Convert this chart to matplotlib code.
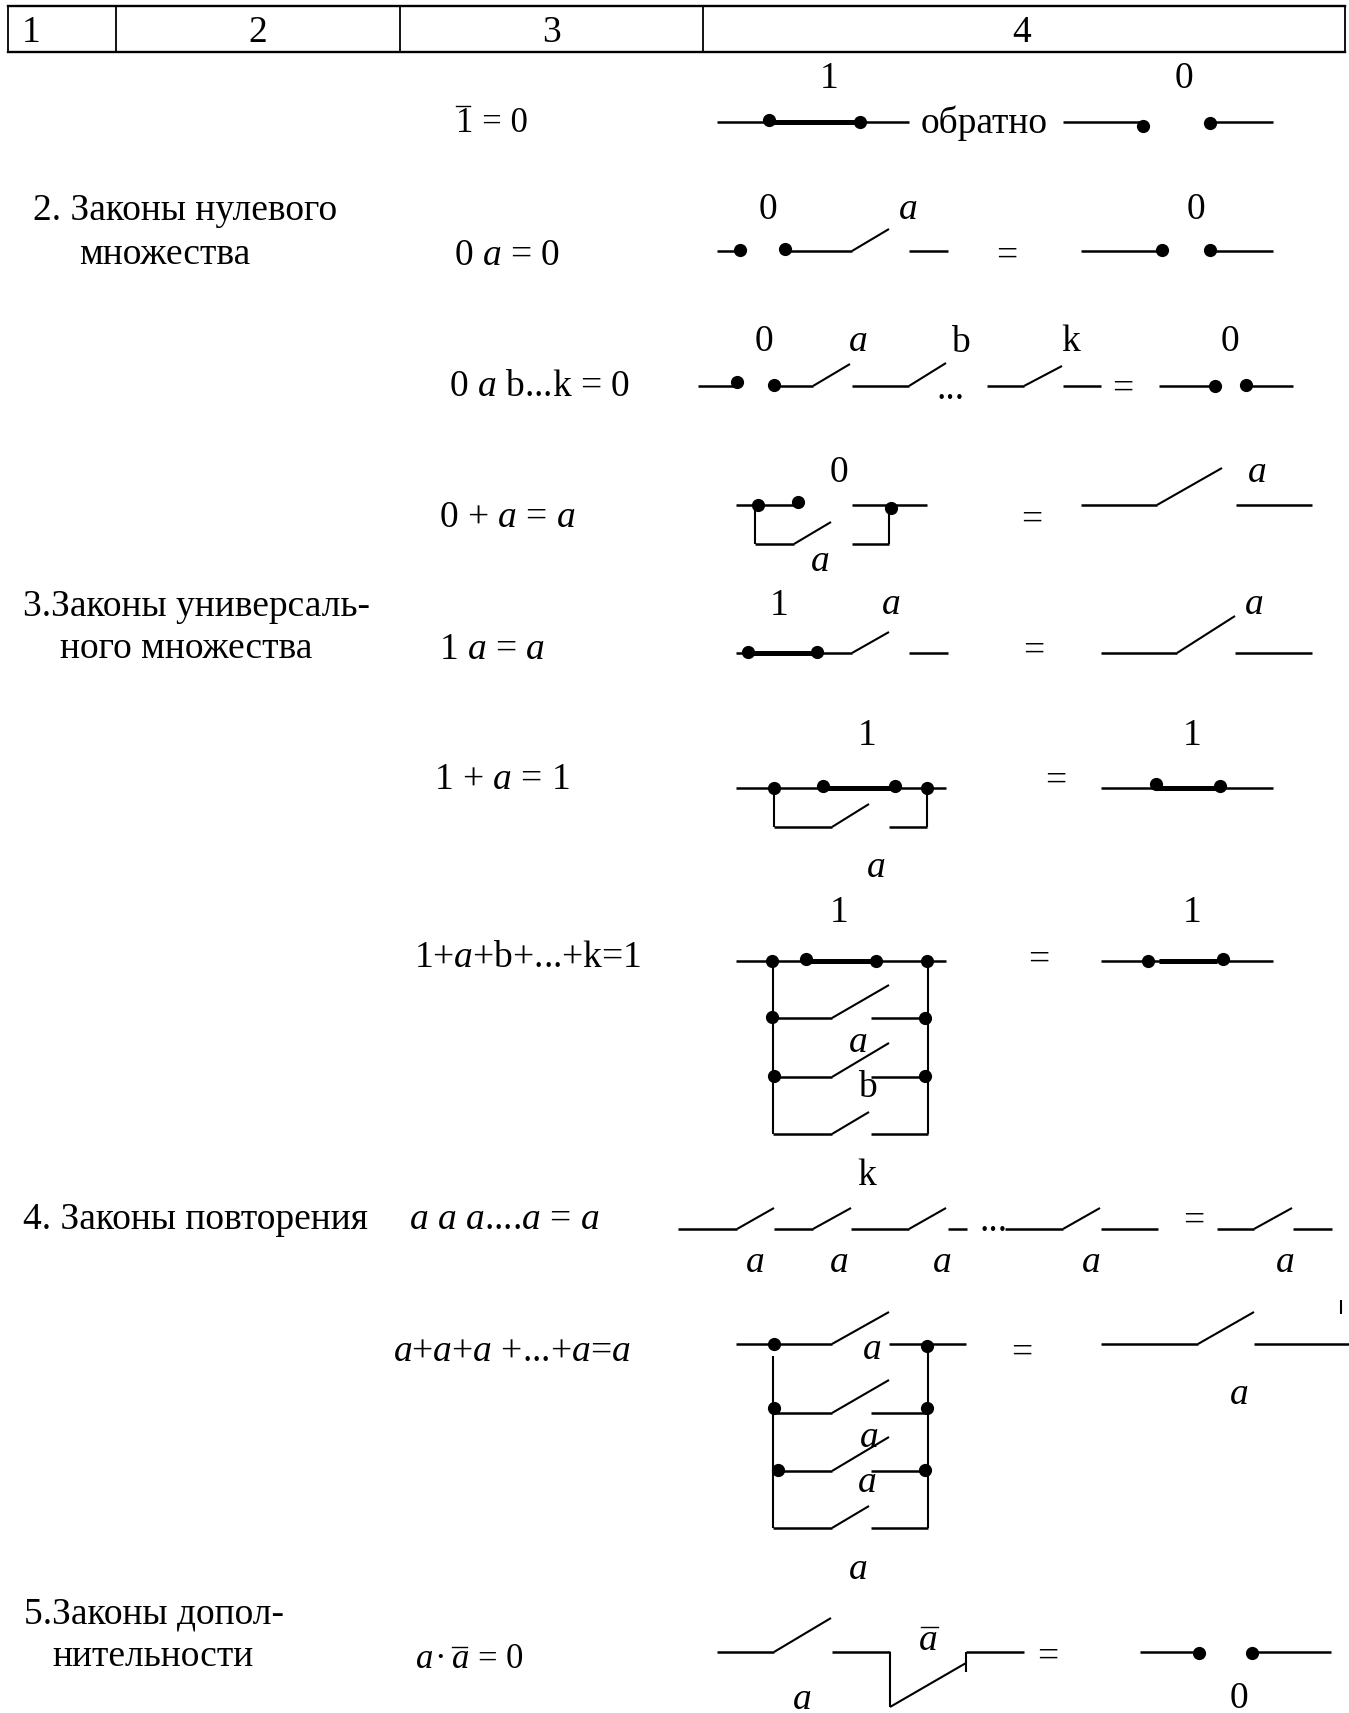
import matplotlib
matplotlib.use("Agg")
import matplotlib.pyplot as plt

W = 1349
H = 1713
FS = 27

plt.rcParams['font.family'] = ['Liberation Serif', 'DejaVu Serif']
plt.rcParams['mathtext.fontset'] = 'custom'
plt.rcParams['mathtext.rm'] = 'Liberation Serif'
plt.rcParams['mathtext.it'] = 'Liberation Serif:italic'

# table head
table_box = [8, 6, 1345, 52]
table_cols = [116, 400, 703]
head_labels = [("1", 31), ("2", 258), ("3", 551), ("4", 1022)]

# left column, (text, x left, y)
group_labels = [
    ("2. Законы нулевого", 33, 209),
    ("множества", 79, 253),
    ("3.Законы универсаль-", 23, 605),
    ("ного множества", 60, 647),
    ("4. Законы повторения", 23, 1218),
    ("5.Законы допол-", 24, 1612),
    ("нительности", 52, 1655),
]

# formulas, (text, x left, y)
formulas = [
    ("0 $a$ = 0", 454, 254),
    ("0 $a$ b...k = 0", 449, 385),
    ("0 + $a$ = $a$", 439, 516),
    ("1 $a$ = $a$", 439, 648),
    ("1 + $a$ = 1", 434, 778),
    ("1+$a$+b+...+k=1", 414, 956),
    ("$a$ $a$ $a$....$a$ = $a$", 409, 1218),
    ("$a$+$a$+$a$ +...+$a$=$a$", 393, 1350),
]

# smaller formulas of the first and last row
first_formula = ("1 = 0", 456, 124)
last_formula = [("$a$", 424), ("·", 440), ("$a$", 460), ("=", 487), ("0", 514)]

# overbars (x1, x2, y)
overbars = [(456, 470, 106), (452, 467, 1647), (921, 938, 1627)]

# contact names, (text, x center, y center)
plain_names = [
    ("1", 829, 76), ("0", 1184, 76), ("обратно", 984, 120),
    ("0", 768, 207), ("0", 1196, 207),
    ("0", 764, 339), ("b", 960, 340), ("k", 1071, 339), ("0", 1230, 339),
    ("0", 839, 470),
    ("1", 779, 603),
    ("1", 867, 733), ("1", 1192, 733),
    ("1", 839, 910), ("1", 1192, 910), ("b", 867, 1085), ("k", 867, 1173),
    ("0", 1239, 1696),
]
italic_names = [
    (908, 210), (858, 342), (820, 562), (1257, 473), (891, 605), (1254, 605),
    (876, 868), (858, 1043),
    (755, 1263), (839, 1263), (942, 1263), (1091, 1263), (1285, 1263),
    (872, 1350), (1239, 1395), (869, 1438), (867, 1483), (858, 1570),
    (928, 1641), (802, 1700),
]
equals_signs = [
    (1007, 253), (1123, 386), (1032, 517), (1034, 648), (1056, 778),
    (1039, 957), (1194, 1218), (1022, 1350), (1048, 1654),
]
dots_text = [(951, 390), (994, 1222)]

# wires (x1, y1, x2, y2)
wires = [
    (717, 122, 909, 122), (1063, 122, 1140, 122), (1210, 122, 1273, 122),
    (717, 251, 740, 251), (785, 251, 852, 251), (909, 251, 948, 251),
    (1081, 251, 1162, 251), (1210, 251, 1273, 251),
    (698, 386, 740, 386), (774, 386, 813, 386), (852, 386, 909, 386),
    (987, 386, 1024, 386), (1063, 386, 1101, 386),
    (1159, 386, 1215, 386), (1246, 386, 1293, 386),
    (736, 505, 796, 505), (852, 505, 927, 505), (755, 544, 794, 544),
    (852, 544, 889, 544), (1081, 505, 1157, 505), (1236, 505, 1312, 505),
    (736, 653, 852, 653), (909, 653, 948, 653),
    (1101, 653, 1177, 653), (1235, 653, 1312, 653),
    (736, 788, 946, 788), (774, 827, 832, 827), (889, 827, 927, 827),
    (1101, 788, 1273, 788),
    (736, 961, 946, 961), (772, 1018, 832, 1018), (871, 1018, 925, 1018),
    (774, 1077, 832, 1077), (871, 1077, 925, 1077),
    (773, 1134, 832, 1134), (871, 1134, 928, 1134), (1101, 961, 1273, 961),
    (678, 1229, 737, 1229), (774, 1229, 813, 1229), (851, 1229, 909, 1229),
    (948, 1229, 967, 1229), (1005, 1229, 1063, 1229), (1101, 1229, 1158, 1229),
    (1217, 1229, 1254, 1229), (1293, 1229, 1332, 1229),
    (736, 1344, 832, 1344), (889, 1344, 966, 1344),
    (774, 1413, 832, 1413), (871, 1413, 928, 1413),
    (774, 1471, 832, 1471), (871, 1471, 928, 1471),
    (773, 1528, 832, 1528), (871, 1528, 928, 1528),
    (1101, 1344, 1198, 1344), (1254, 1344, 1349, 1344),
    (717, 1652, 774, 1652), (832, 1652, 890, 1652), (966, 1652, 1024, 1652),
    (1140, 1652, 1199, 1652), (1252, 1652, 1331, 1652),
]
# open contacts and verticals, drawn a bit thinner
blades = [
    (852, 251, 889, 229),
    (813, 386, 850, 364), (909, 386, 946, 363), (1024, 386, 1062, 366),
    (794, 544, 831, 522), (1157, 505, 1222, 468),
    (852, 653, 889, 632), (1177, 653, 1235, 616),
    (832, 827, 869, 804),
    (832, 1018, 889, 985), (832, 1077, 889, 1043), (832, 1134, 869, 1112),
    (737, 1229, 774, 1208), (813, 1229, 851, 1208), (909, 1229, 946, 1208),
    (1063, 1229, 1100, 1208), (1254, 1229, 1292, 1208),
    (832, 1344, 889, 1312), (832, 1413, 889, 1380), (832, 1471, 889, 1437),
    (832, 1528, 869, 1506), (1198, 1344, 1254, 1312),
    (774, 1652, 831, 1618), (890, 1707, 966, 1663),
    (755, 505, 755, 544), (889, 505, 889, 544),
    (774, 788, 774, 827), (927, 788, 927, 827),
    (773, 961, 773, 1134), (928, 961, 928, 1134),
    (773, 1356, 773, 1528), (928, 1346, 928, 1528),
    (890, 1652, 890, 1707), (966, 1652, 966, 1672),
    (1341, 1300, 1341, 1314),
]
# closed contacts
bridges = [
    (768, 122, 860, 122), (749, 653, 817, 653), (823, 788, 895, 788),
    (1157, 788, 1220, 788), (807, 961, 876, 961), (1159, 961, 1217, 961),
]
dots_x = [769, 860, 1143, 1210, 740, 785, 1162, 1210, 737, 774, 1215, 1246,
          758, 798, 891, 748, 817, 774, 823, 895, 927, 1156, 1220,
          772, 806, 876, 927, 1148, 1223, 772, 925, 774, 925,
          774, 927, 774, 927, 778, 925, 1199, 1252]
dots_y = [120, 122, 126, 123, 250, 249, 250, 250, 382, 385, 386, 385,
          505, 502, 508, 652, 652, 788, 786, 786, 788, 784, 786,
          961, 959, 961, 961, 961, 959, 1017, 1018, 1076, 1076,
          1344, 1346, 1408, 1408, 1470, 1470, 1653, 1653]

fig = plt.figure(figsize=(W / 100, H / 100), dpi=100)
ax = fig.add_axes([0, 0, 1, 1])
ax.set_xlim(0, W)
ax.set_ylim(H, 0)
ax.axis('off')

x1, y1, x2, y2 = table_box
ax.plot([x1, x2], [y1, y1], color='k', lw=1.7)
ax.plot([x1, x2], [y2, y2], color='k', lw=1.7)
for x in [x1, x2] + table_cols:
    ax.plot([x, x], [y1, y2], color='k', lw=1.3)
for s, x in head_labels:
    ax.text(x, 33, s, fontsize=FS, ha='center', va='center')

# digits sit higher than the middle of the text box
for s, x, y in group_labels + formulas:
    ax.text(x, y + 2, s, fontsize=FS, ha='left', va='center')
s, x, y = first_formula
ax.text(x, y, s, fontsize=FS - 2, ha='left', va='center')
for s, x in last_formula:
    ax.text(x, 1660, s, fontsize=FS - 2, ha='center', va='center')
for x1, x2, y in overbars:
    ax.plot([x1, x2], [y, y], color='k', lw=1.0)

for s, x, y in plain_names:
    ax.text(x, y + 3, s, fontsize=FS, ha='center', va='center')
for x, y in italic_names:
    ax.text(x, y, "a", fontsize=FS, style='italic', ha='center', va='center')
for x, y in equals_signs:
    ax.text(x, y + 3, "=", fontsize=FS, ha='center', va='center')
for x, y in dots_text:
    ax.text(x, y, "...", fontsize=FS, ha='center', va='center')

for x1, y1, x2, y2 in wires:
    ax.plot([x1, x2], [y1, y2], color='k', lw=1.8, solid_capstyle='butt')
for x1, y1, x2, y2 in blades:
    ax.plot([x1, x2], [y1, y2], color='k', lw=1.5, solid_capstyle='butt')
for x1, y1, x2, y2 in bridges:
    ax.plot([x1, x2], [y1, y2], color='k', lw=3.6, solid_capstyle='butt')
ax.plot(dots_x, dots_y, 'o', color='k', ms=9.5, mew=0, linestyle='none')

fig.savefig("out.png", dpi=100)
